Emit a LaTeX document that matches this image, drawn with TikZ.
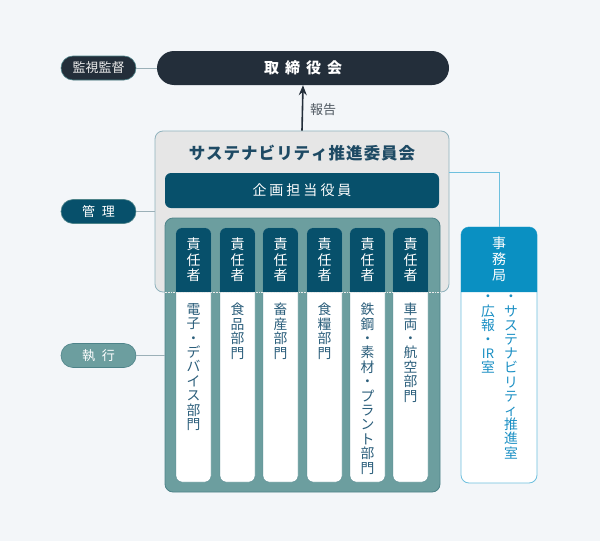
\documentclass[tikz,border=0pt]{standalone}
\usepackage{fontspec}
\setmainfont{Noto Sans CJK JP}
\usetikzlibrary{arrows.meta}
\definecolor{bg}{HTML}{F3F6F9}
\definecolor{dark}{HTML}{232E3A}
\definecolor{navy}{HTML}{07506B}
\definecolor{tealc}{HTML}{6C9E9F}
\definecolor{tealb}{HTML}{4D8389}
\definecolor{comfill}{HTML}{E6E6E6}
\definecolor{comborder}{HTML}{8FB2BD}
\definecolor{comtitle}{HTML}{1E4A64}
\definecolor{coltext}{HTML}{2B5E7B}
\definecolor{jblue}{HTML}{0A90C2}
\definecolor{jborder}{HTML}{6EC0DE}
\definecolor{jtext}{HTML}{1A8FC4}
\definecolor{linec}{HTML}{9BB0B8}
\tikzset{
  pill/.style={minimum width=75pt, minimum height=24pt, rounded corners=12pt, inner sep=0pt, text=white, font=\fontsize{13}{15}\selectfont},
  colbox/.style={minimum width=35pt, minimum height=254pt, fill=white, draw=tealb, rounded corners=6pt, inner sep=0pt},
  hdtext/.style={anchor=north, align=center, inner sep=0pt, text=white, font=\fontsize{14}{15.5}\selectfont},
  bodytext/.style={anchor=north, align=center, inner sep=0pt, text=coltext, font=\fontsize{13.8}{14.4}\selectfont},
  jtextst/.style={anchor=north, align=center, inner sep=0pt, text=jtext, font=\fontsize{13.8}{14.2}\selectfont},
  conn/.style={draw=linec, line width=0.8pt}
}
\newcommand\deptcol[3]{%
  \node[colbox] (col#1) at (#2+17.5,355) {};
  \fill[navy] (#2,292) [rounded corners=6pt] -- (#2,228) -- (#2+35,228) [sharp corners] -- (#2+35,292) -- cycle;
  \node[hdtext] (hd#1) at (#2+17.5,238) {責\\任\\者};
  \node[bodytext] (tx#1) at (#2+17.5,303) {#3};
}
\begin{document}
\begin{tikzpicture}[x=1pt,y=-1pt]
\useasboundingbox (0,0) rectangle (600,541);
\fill[bg] (0,0) rectangle (600,541);

% board
\node[fill=dark, minimum width=292pt, minimum height=34pt, rounded corners=17pt, inner sep=0pt, text=white, font=\bfseries\fontsize{15}{17}\selectfont] (board) at (303,68) {取\hspace{6pt}締\hspace{6pt}役\hspace{6pt}会};
\node[pill, fill=dark, draw=tealb, line width=0.6pt, text=white!85!gray] (kanshi) at (98.5,68) {監視監督};
\draw[conn] (kanshi.east) -- (board.west);

% committee
\node[fill=comfill, draw=comborder, line width=0.8pt, minimum width=294pt, minimum height=161pt, rounded corners=8pt, inner sep=0pt] (committee) at (302,211.5) {};
\node[text=comtitle, inner sep=0pt, font=\bfseries\fontsize{16.5}{18}\selectfont] (comtitle) at (302,153.5) {サ\hspace{1pt}ス\hspace{1pt}テ\hspace{1pt}ナ\hspace{1pt}ビ\hspace{1pt}リ\hspace{1pt}テ\hspace{1pt}ィ\hspace{1pt}推\hspace{1pt}進\hspace{1pt}委\hspace{1pt}員\hspace{1pt}会};
\node[fill=navy, minimum width=274pt, minimum height=35pt, rounded corners=6pt, inner sep=0pt, text=white, font=\fontsize{14}{16}\selectfont] (kikaku) at (302,190.5) {企\hspace{3pt}画\hspace{3pt}担\hspace{3pt}当\hspace{3pt}役\hspace{3pt}員};

% report arrow
\draw[draw=dark, line width=1.6pt, -{Stealth[length=10pt,width=8pt]}] (committee.north) -- (board.south);
\node[text=dark!80, font=\fontsize{13}{15}\selectfont, anchor=west, inner sep=0pt] (report) at (310,110) {報告};

% execution box
\node[fill=tealc, draw=tealb, line width=0.8pt, minimum width=275pt, minimum height=274pt, rounded corners=8pt, inner sep=0pt] (teal) at (302.5,355) {};

\deptcol{1}{176}{電\\子\\・\\デ\\バ\\イ\\ス\\部\\門}
\deptcol{2}{220}{食\\品\\部\\門}
\deptcol{3}{263}{畜\\産\\部\\門}
\deptcol{4}{307}{食\\糧\\部\\門}
\deptcol{5}{350}{鉄\\鋼\\・\\素\\材\\・\\プ\\ラ\\ン\\ト\\部\\門}
\deptcol{6}{393}{車\\両\\・\\航\\空\\部\\門}
\draw[white!85!gray, densely dotted, line width=0.6pt] (teal.west |- committee.south) -- (teal.east |- committee.south);

% side labels
\node[pill, fill=navy, draw=tealb, line width=0.6pt] (kanri) at (98.5,211.5) {管\hspace{7pt}理};
\draw[conn] (kanri.east) -- (kanri.east -| committee.west);
\node[pill, fill=tealc, draw=tealb, line width=0.6pt] (shikko) at (98.5,355.5) {執\hspace{7pt}行};
\draw[conn] (shikko.east) -- (shikko.east -| teal.west);

% secretariat
\node[fill=white, draw=jborder, line width=0.8pt, minimum width=76pt, minimum height=256pt, rounded corners=8pt, inner sep=0pt] (jimu) at (499,355) {};
\fill[jblue] (461,292) [rounded corners=8pt] -- (461,227) -- (537,227) [sharp corners] -- (537,292) -- cycle;
\node[hdtext, font=\fontsize{14}{16}\selectfont] (jimuhd) at (499,237) {事\\務\\局};
\node[jtextst] (jimur) at (511,295) {・\\サ\\ス\\テ\\ナ\\ビ\\リ\\テ\\ィ\\推\\進\\室};
\node[jtextst] (jimul) at (488,295) {・\\広\\報\\・\\{\fontsize{13}{14}\selectfont IR}\\室};
\draw[draw=jborder, line width=0.8pt] (committee.east |- kikaku.north) -| (jimu.north);
\end{tikzpicture}
\end{document}
